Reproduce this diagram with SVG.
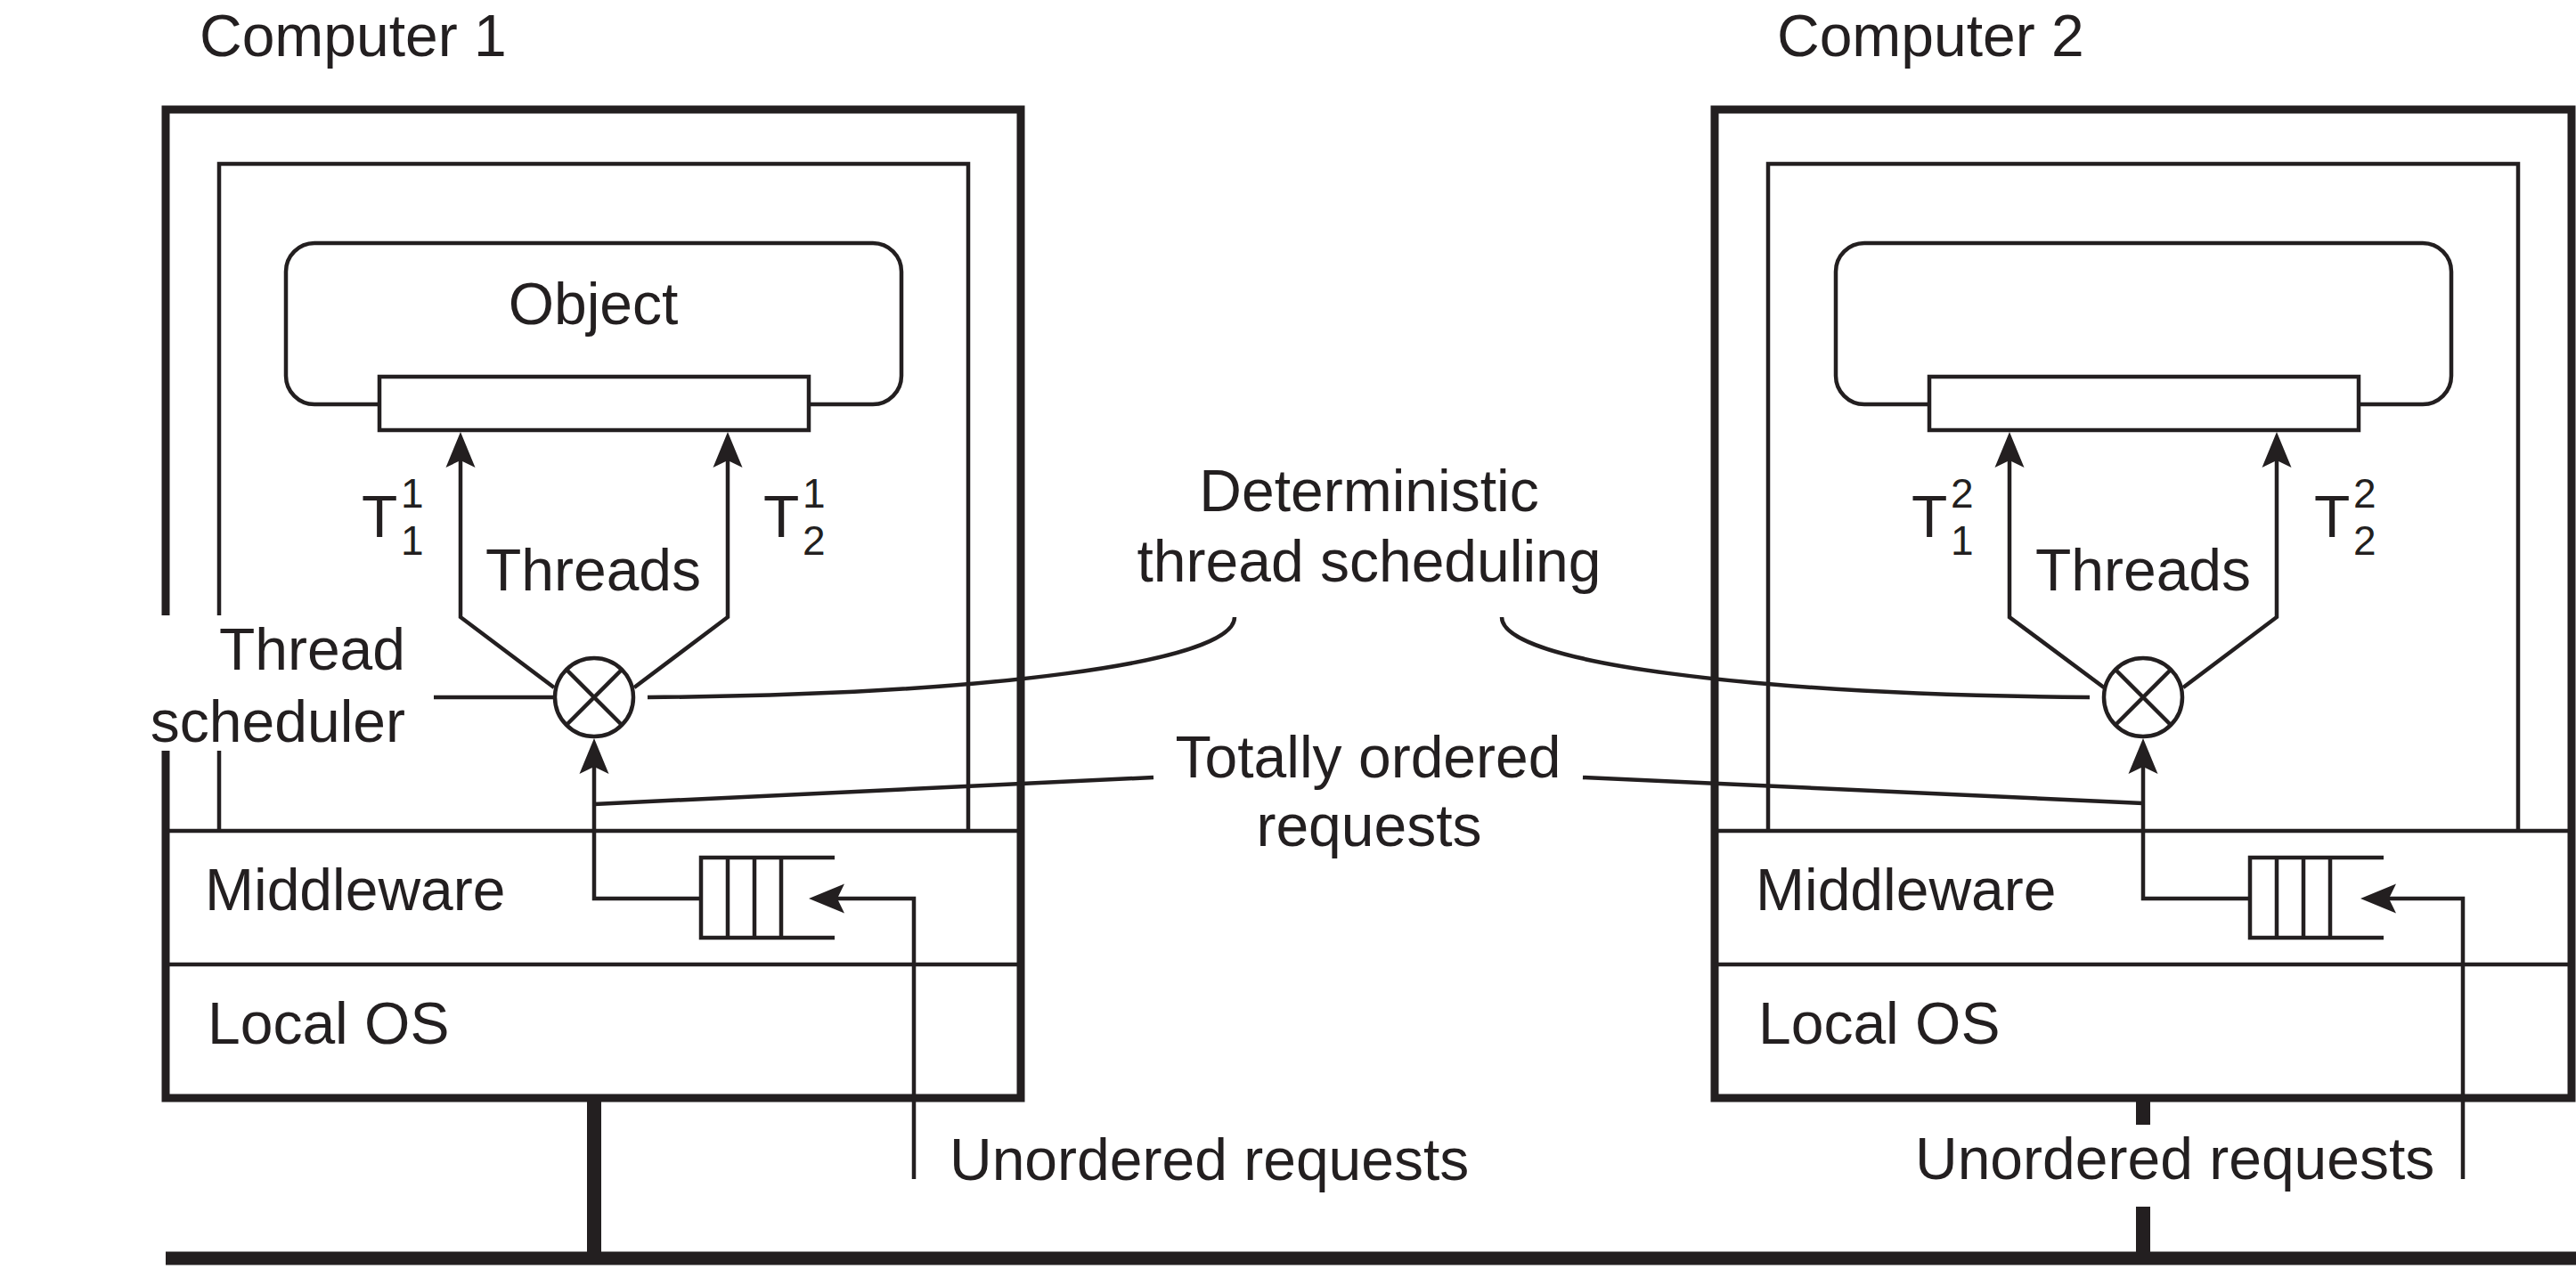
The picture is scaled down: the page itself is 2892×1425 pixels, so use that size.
<svg xmlns="http://www.w3.org/2000/svg" width="2892" height="1425" viewBox="0 0 2892 1425">
<style>
.thick{fill:none;stroke:#231f20;stroke-width:9;stroke-linejoin:miter}
.thin{fill:none;stroke:#231f20;stroke-width:4.5}
.box{fill:#fff;stroke:#231f20;stroke-width:4.5}
.bus{fill:none;stroke:#231f20}
text{font-family:"Liberation Sans",Arial,Helvetica,sans-serif;font-size:66px;fill:#231f20}
.sm{font-size:46px}
.mid{text-anchor:middle}
.end{text-anchor:end}
</style>
<defs>
<path id="ah" d="M0,0 L-16.5,40 L0,32 L16.5,40 Z" fill="#231f20"/>
</defs>
<rect width="2892" height="1425" fill="#fff"/>

<g id="computer1">
<path class="thick" d="M186,691 V123 H1146 V1233 H186 V843"/>
<path class="thin" d="M246,691 V184 H1087 V933 M246,843 V933"/>
<path class="thin" d="M186,933 H1146 M186,1083 H1146"/>
<text x="224" y="63">Computer 1</text>
<text x="230" y="1022">Middleware</text>
<text x="233" y="1172">Local OS</text>
</g>

<g id="object1">
<rect class="box" x="321" y="273" width="691" height="181" rx="32"/>
<rect class="box" x="426" y="423" width="482" height="60"/>
<text class="mid" x="666" y="364">Object</text>
</g>

<g id="scheduler1">
<circle class="thin" cx="667" cy="783" r="44"/>
<path class="thin" d="M636,752 L698,814 M698,752 L636,814"/>
</g>

<g id="queue1">
<path class="thin" d="M937,963 H787 V1053 H937 M817,963 V1053 M847,963 V1053 M877,963 V1053"/>
</g>

<g id="computer2">
<path class="thick" d="M1925,123 H2887 V1233 H1925 Z"/>
<path class="thin" d="M1985,933 V184 H2827 V933"/>
<path class="thin" d="M1925,933 H2887 M1925,1083 H2887"/>
<text x="1995" y="63">Computer 2</text>
<text x="1971" y="1022">Middleware</text>
<text x="1974" y="1172">Local OS</text>
</g>

<g id="object2">
<rect class="box" x="2061" y="273" width="691" height="181" rx="32"/>
<rect class="box" x="2166" y="423" width="482" height="60"/>
</g>

<g id="scheduler2">
<circle class="thin" cx="2406" cy="783" r="44"/>
<path class="thin" d="M2375,752 L2437,814 M2437,752 L2375,814"/>
</g>

<g id="queue2">
<path class="thin" d="M2676,963 H2526 V1053 H2676 M2556,963 V1053 M2586,963 V1053 M2616,963 V1053"/>
</g>

<g id="labels">
<text x="406" y="603">T</text><text class="sm" x="450" y="570">1</text><text class="sm" x="450" y="623">1</text>
<text x="857" y="603">T</text><text class="sm" x="901" y="570">1</text><text class="sm" x="901" y="623">2</text>
<text x="2146" y="603">T</text><text class="sm" x="2190" y="570">2</text><text class="sm" x="2190" y="623">1</text>
<text x="2598" y="603">T</text><text class="sm" x="2642" y="570">2</text><text class="sm" x="2642" y="623">2</text>
<text class="mid" x="666" y="663">Threads</text>
<text class="mid" x="2406" y="663">Threads</text>
<text class="end" x="455" y="752">Thread</text>
<text class="end" x="455" y="833">scheduler</text>
<text class="mid" x="1537" y="574">Deterministic</text>
<text class="mid" x="1537" y="653">thread scheduling</text>
<text class="mid" x="1536" y="873">Totally ordered</text>
<text class="mid" x="1537" y="950">requests</text>
<text x="1066" y="1325">Unordered requests</text>
<text x="2150" y="1324">Unordered requests</text>
</g>

<g id="connectors">
<path class="thin" d="M622,772 L517,693 V517 M712,772 L817,693 V517"/>
<path class="thin" d="M2362,772 L2256,693 V517 M2451,772 L2556,693 V517"/>
<use href="#ah" transform="translate(517,485)"/>
<use href="#ah" transform="translate(817,485)"/>
<use href="#ah" transform="translate(2256,485)"/>
<use href="#ah" transform="translate(2556,485)"/>
<path class="thin" d="M487,783 H623"/>
<path class="thin" d="M787,1009 H667 V861"/>
<path class="thin" d="M2526,1009 H2406 V861"/>
<use href="#ah" transform="translate(667,829)"/>
<use href="#ah" transform="translate(2406,829)"/>
<path class="thin" d="M1026,1324 V1009 H940"/>
<path class="thin" d="M2765,1324 V1009 H2682"/>
<use href="#ah" transform="translate(908,1009) rotate(-90)"/>
<use href="#ah" transform="translate(2650,1009) rotate(-90)"/>
<path class="thin" d="M727,783 C1100,780 1386,745 1386,693"/>
<path class="thin" d="M1686,693 C1686,745 1972,780 2346,783"/>
<path class="thin" d="M667,903 L1295,873"/>
<path class="thin" d="M1777,873 L2406,902"/>
<path class="bus" stroke-width="15" d="M186,1413 H2892"/>
<path class="bus" stroke-width="16" d="M667,1233 V1413"/>
<path class="bus" stroke-width="16" d="M2406,1233 V1263 M2406,1355 V1413"/>
</g>
</svg>
